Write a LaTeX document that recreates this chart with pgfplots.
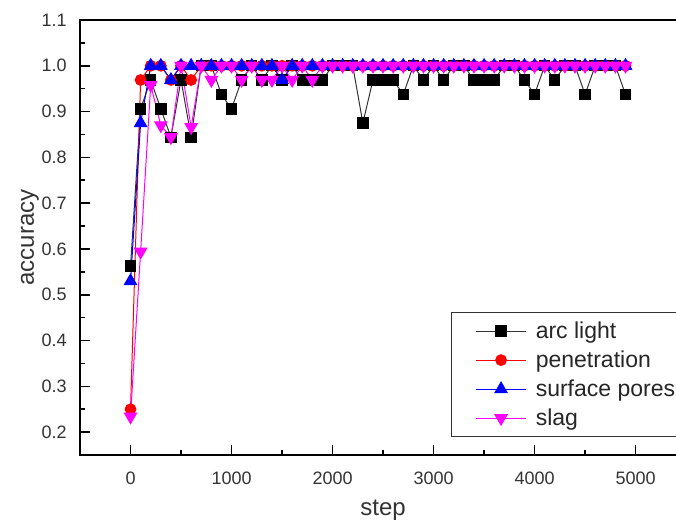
\documentclass[border=0pt]{standalone}
\usepackage{fontspec}
\setmainfont{Liberation Sans}
\usepackage{pgfplots}
\usepackage{pgfplotstable}
\pgfplotsset{compat=1.18}
\definecolor{pmag}{RGB}{255,0,255}
\definecolor{pred}{RGB}{255,0,0}
\definecolor{pblue}{RGB}{0,0,255}

\pgfplotstableread{
step arc pen sur slag
0    0.5625 0.25  0.53  0.234
100  0.906  0.969 0.875 0.594
200  0.969  1     1     0.958
300  0.906  1     1     0.870
400  0.844  0.969 0.969 0.844
500  0.969  1     1     1
600  0.844  0.969 1     0.866
700  1      1     1     1
800  1      1     1     0.969
900  0.9375 1     1     1
1000 0.906  1     1     1
1100 0.969  1     1     0.969
1200 1      1     1     1
1300 0.969  1     1     0.969
1400 1      1     1     0.969
1500 0.969  1     0.969 1
1600 1      1     1     0.969
1700 0.969  1     1     1
1800 0.969  1     1     0.969
1900 0.969  1     1     1
2000 1      1     1     1
2100 1      1     1     1
2200 1      1     1     1
2300 0.875  1     1     1
2400 0.969  1     1     1
2500 0.969  1     1     1
2600 0.969  1     1     1
2700 0.9375 1     1     1
2800 1      1     1     1
2900 0.969  1     1     1
3000 1      1     1     1
3100 0.969  1     1     1
3200 1      1     1     1
3300 1      1     1     1
3400 0.969  1     1     1
3500 0.969  1     1     1
3600 0.969  1     1     1
3700 1      1     1     1
3800 1      1     1     1
3900 0.969  1     1     1
4000 0.9375 1     1     1
4100 1      1     1     1
4200 0.969  1     1     1
4300 1      1     1     1
4400 1      1     1     1
4500 0.9375 1     1     1
4600 1      1     1     1
4700 1      1     1     1
4800 1      1     1     1
4900 0.9375 1     1     1
}\acc

\begin{document}
\begin{tikzpicture}
\begin{axis}[
  name=ax,
  scale only axis,
  width=303pt, height=217.5pt,
  xmin=-500, xmax=5500, ymin=0.15, ymax=1.1,
  xtick={0,1000,2000,3000,4000,5000},
  minor xtick={-500,500,1500,2500,3500,4500},
  ytick={0.2,0.3,0.4,0.5,0.6,0.7,0.8,0.9,1.0,1.1},
  minor ytick={0.25,0.35,0.45,0.55,0.65,0.75,0.85,0.95,1.05},
  yticklabel style={/pgf/number format/fixed, /pgf/number format/fixed zerofill, /pgf/number format/precision=1},
  xticklabel style={/pgf/number format/1000 sep={}},
  /pgf/number format/assume math mode=true,
  tick align=inside,
  xtick pos=bottom, ytick pos=left,
  major tick length=5pt, minor tick length=2.5pt,
  every tick/.style={black, line width=0.8pt},
  axis line style={line width=1pt, black},
  tick label style={font=\fontsize{9}{10}\selectfont, text=black!80},
  yticklabel style={anchor=east, inner sep=0pt, xshift=-6.5pt},
  xticklabel style={anchor=base, inner sep=0pt, yshift=-14.5pt},
  xlabel={step}, ylabel={accuracy},
  label style={font=\fontsize{12}{14}\selectfont, text=black!80},
  xlabel style={at={(axis description cs:0.5,0)}, anchor=base, yshift=-30pt},
  ylabel style={at={(axis description cs:-0.0825,0.5)}, anchor=center},
  legend cell align=left,
  legend image code/.code={\draw[mark repeat=2,mark phase=2] plot coordinates {(0pt,0pt) (12.5pt,0pt) (25pt,0pt)};},
  legend style={at={(0.612,0.041)}, anchor=south west, draw=black!80, line width=0.6pt,
    fill=white, font=\fontsize{11.5}{13.5}\selectfont, text=black!85,
    inner xsep=12pt, inner ysep=2pt, row sep=0pt, column sep=3pt,
    nodes={text height=9.4pt, text depth=1.9pt, inner sep=1.6pt}},
]
\addplot[black!80, line width=0.5pt, mark=square*, mark size=2.6pt, mark options={solid, fill=black, draw=black}] table[x=step, y=arc] {\acc};
\addlegendentry{arc light}
\addplot[pred, line width=0.5pt, mark=*, mark size=2.7pt, mark options={solid, fill=pred, draw=pred}] table[x=step, y=pen] {\acc};
\addlegendentry{penetration}
\addplot[pblue, line width=0.5pt, mark=triangle*, mark size=3.5pt, mark options={solid, fill=pblue, draw=pblue}] table[x=step, y=sur] {\acc};
\addlegendentry{surface pores}
\addplot[pmag, line width=0.5pt, mark=triangle*, mark size=3.5pt, mark options={solid, fill=pmag, draw=pmag, rotate=180}] table[x=step, y=slag] {\acc};
\addlegendentry{slag}
\end{axis}
\pgfresetboundingbox
\path[use as bounding box] ([shift={(-40pt,-32.5pt)}]ax.south west) rectangle ([shift={(-5.05pt,10pt)}]ax.north east);
\end{tikzpicture}
\end{document}
